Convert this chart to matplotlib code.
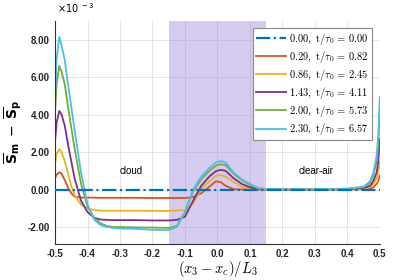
import matplotlib
matplotlib.use("Agg")
import matplotlib.pyplot as plt

plt.rcParams['mathtext.fontset'] = 'cm'
plt.rcParams['font.family'] = ['Liberation Sans', 'DejaVu Sans']

# position (x3 - xc)/L3
x = [-0.5, -0.495, -0.487, -0.48, -0.47, -0.46, -0.45, -0.44, -0.42, -0.40,
     -0.38, -0.36, -0.34, -0.32, -0.30, -0.25, -0.20, -0.15, -0.125, -0.10,
     -0.075, -0.05, -0.025, -0.005, 0.01, 0.025, 0.05, 0.075, 0.10, 0.125,
     0.15, 0.2, 0.3, 0.4, 0.45, 0.47, 0.48, 0.49, 0.495, 0.5]

# Sm - Sp, en unites de 1e-3
s000 = [0.0] * len(x)
s029 = [0.6, 0.8, 0.92, 0.85, 0.5, 0.1, -0.2, -0.38, -0.43, -0.43,
        -0.43, -0.44, -0.44, -0.44, -0.44, -0.44, -0.45, -0.45, -0.45, -0.45,
        -0.4, -0.2, 0.15, 0.44, 0.4, 0.2, 0.02, 0.0, 0.0, 0.0,
        0.0, 0.0, 0.0, 0.0, 0.02, 0.05, 0.12, 0.3, 0.45, 0.75]
s086 = [1.4, 1.9, 2.15, 2.0, 1.5, 0.85, 0.2, -0.3, -0.8, -1.0,
        -1.1, -1.12, -1.13, -1.13, -1.13, -1.13, -1.14, -1.14, -1.12, -1.1,
        -0.75, 0.05, 0.45, 0.74, 0.77, 0.7, 0.4, 0.15, 0.04, 0.01,
        0.0, 0.0, 0.0, 0.01, 0.04, 0.12, 0.3, 0.6, 0.95, 1.5]
s143 = [2.6, 3.6, 4.2, 4.0, 3.4, 2.4, 1.5, 0.6, -0.6, -1.2,
        -1.5, -1.6, -1.62, -1.63, -1.63, -1.63, -1.65, -1.65, -1.62, -1.45,
        -0.6, 0.2, 0.7, 0.98, 1.05, 1.0, 0.6, 0.3, 0.12, 0.04,
        0.01, 0.0, 0.0, 0.02, 0.08, 0.2, 0.45, 0.9, 1.5, 2.7]
s200 = [4.1, 5.7, 6.6, 6.3, 5.6, 4.4, 3.3, 2.2, 0.3, -0.9,
        -1.5, -1.8, -1.95, -2.0, -2.0, -2.02, -2.03, -2.05, -1.95, -1.2,
        -0.1, 0.55, 1.0, 1.28, 1.35, 1.3, 0.85, 0.5, 0.25, 0.07,
        0.02, 0.01, 0.01, 0.04, 0.12, 0.35, 0.75, 1.5, 2.4, 4.3]
s230 = [5.0, 7.0, 8.15, 7.7, 6.9, 5.6, 4.4, 3.2, 0.9, -0.8,
        -1.6, -1.9, -2.0, -2.05, -2.08, -2.1, -2.15, -2.17, -2.0, -1.2,
        0.0, 0.7, 1.15, 1.45, 1.52, 1.45, 0.9, 0.55, 0.3, 0.08,
        0.03, 0.02, 0.02, 0.05, 0.15, 0.45, 0.9, 1.8, 2.9, 4.95]

labels = [r'$0.00,\ \mathrm{t}/\tau_0\,=\,0.00$',
          r'$0.29,\ \mathrm{t}/\tau_0\,=\,0.82$',
          r'$0.86,\ \mathrm{t}/\tau_0\,=\,2.45$',
          r'$1.43,\ \mathrm{t}/\tau_0\,=\,4.11$',
          r'$2.00,\ \mathrm{t}/\tau_0\,=\,5.73$',
          r'$2.30,\ \mathrm{t}/\tau_0\,=\,6.57$']
couleurs = ['#0072bd', '#d95319', '#edb120', '#7e2f8e', '#77ac30', '#4dbeee']
series = [s000, s029, s086, s143, s200, s230]

fig = plt.figure(figsize=(3.99, 2.8), dpi=100)
ax = fig.add_axes([0.138, 0.129, 0.814, 0.796])

# zone violette
ax.axvspan(-0.15, 0.15, facecolor=(0.6, 0.5, 0.85), alpha=0.4, lw=0, zorder=1)

for i, (s, c, lab) in enumerate(zip(series, couleurs, labels)):
    if i == 0:
        ax.plot(x, s, color=c, lw=1.6, ls='-.', label=lab, zorder=3)
    else:
        ax.plot(x, s, color=c, lw=1.3, label=lab, zorder=2)

ax.set_xlim(-0.5, 0.5)
ax.set_ylim(-2.9, 9.0)
ax.set_xticks([-0.5, -0.4, -0.3, -0.2, -0.1, 0.0, 0.1, 0.2, 0.3, 0.4, 0.5])
ax.set_xticklabels(['-0.5', '-0.4', '-0.3', '-0.2', '-0.1', '0.0', '0.1', '0.2', '0.3', '0.4', '0.5'])
ax.set_yticks([-2, 0, 2, 4, 6, 8])
ax.set_yticklabels(['-2.00', '0.00', '2.00', '4.00', '6.00', '8.00'])
ax.tick_params(labelsize=7, colors='#262626', length=0, pad=4)
for lab in ax.get_xticklabels() + ax.get_yticklabels():
    lab.set_fontweight('bold')

ax.grid(True, color='#e4e4e4', lw=0.7, zorder=0)
ax.set_axisbelow(True)
for sp in ['top', 'right']:
    ax.spines[sp].set_visible(False)
for sp in ['left', 'bottom']:
    ax.spines[sp].set_color('#333333')
    ax.spines[sp].set_linewidth(0.8)

ax.set_xlabel(r'$(x_3 - x_c)/L_3$', fontsize=10.5, labelpad=0)
ax.set_ylabel(r'$\overline{\mathbf{S}}_{\mathbf{m}}\; - \;\overline{\mathbf{S}}_{\mathbf{p}}$',
              fontsize=10, math_fontfamily='dejavusans', labelpad=2)

ax.text(-0.265, 0.97, 'cloud', fontsize=7, ha='center', va='center')
ax.text(0.305, 0.97, 'clear-air', fontsize=7, ha='center', va='center')
fig.text(0.142, 0.945, r'$\times10^{\ -3}$', fontsize=7, math_fontfamily='dejavusans',
         ha='left', va='bottom')

leg = ax.legend(loc='upper right', bbox_to_anchor=(0.975, 0.97), fontsize=7.5,
                handlelength=2.9, handletextpad=0.3, labelspacing=0.2,
                borderpad=0.3, borderaxespad=0, fancybox=False, framealpha=1,
                edgecolor='#888888')
leg.get_frame().set_linewidth(0.8)

plt.savefig('out.png', dpi=100)
